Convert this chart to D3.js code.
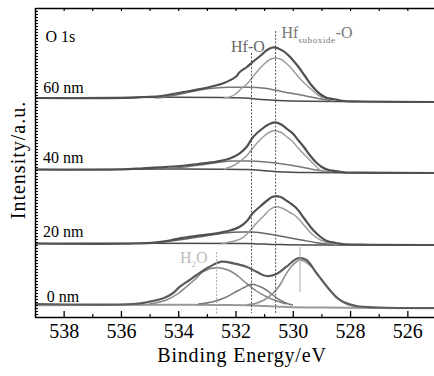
<!DOCTYPE html>
<html>
<head>
<meta charset="utf-8">
<script src="https://cdn.jsdelivr.net/npm/d3@7"></script>
<style>
  body { margin: 0; background: #fff; }
</style>
</head>
<body>
<svg id="chart" width="434" height="376"></svg>
<script>
var serif = "'Liberation Serif', 'Times New Roman', Times, 'DejaVu Serif', serif";

// binding energy axis
var majorTicks = [538, 536, 534, 532, 530, 528, 526];
var minorTicks = [539, 537, 535, 533, 531, 529, 527, 525];

// stacked spectra: label + vertical offset (intensity units)
var panelNames = ["0 nm", "20 nm", "40 nm", "60 nm"];
var offsets = [13, 73.5, 147.5, 219];

// peak positions (eV)
var posH2O = 532.66, posHfO = 531.44, posSub = 530.6, posLow = 529.75;

// ---- 60 nm ----
var env60 = [[539,0],[536,0],[535.23,1],[534.6,2],[534.19,4],[533.6,7],[532.9,11],[532.4,15],[532.0,21],[531.85,26],
  [531.6,31],[531.4,36],[531.1,43],[530.9,48],[530.7,50.5],[530.5,49.5],[530.2,44],[530.0,38],[529.8,31],[529.6,23],
  [529.41,15],[529.2,8],[529.0,3],[528.8,0],[528.6,-1],[528.2,-3],[527.6,-3.5],[525,-4]];
var sub60 = [[532.4,0],[532.2,1],[532.0,4],[531.85,8],[531.6,14],[531.4,21],[531.2,28],[531.0,34],[530.8,38.5],[530.63,40],
  [530.4,38.5],[530.2,34],[530.0,28],[529.8,21],[529.6,15],[529.41,10],[529.2,5],[529.06,2],[528.9,0],[528.6,-1.5]];
var hfo60 = [[534.8,0],[534.4,1.3],[533.9,4],[533.24,8],[532.7,10],[532.2,10.7],[531.6,10.7],[531.26,10.5],[530.9,9.5],
  [530.35,6.3],[529.8,3.5],[529.41,1.3],[529.0,-1],[528.6,-3]];
var bg60 = [[539,0],[531.7,0],[531.1,-1.5],[530.5,-2.5],[529.5,-3.2],[525,-4]];

// ---- 40 nm ----
var env40 = [[539,0],[536,0],[535.23,1.2],[534.6,2.2],[533.94,3.5],[533.3,5.5],[532.66,7.8],[532.2,11],[531.85,16.2],
  [531.6,23],[531.4,32],[531.1,40],[530.85,45],[530.63,47.2],[530.4,45],[530.2,40.5],[530.0,36],[529.8,29],[529.6,22],
  [529.41,14.5],[529.2,7.5],[529.0,2.8],[528.8,0],[528.61,-1.2],[528.2,-2.8],[527.6,-3.2],[525,-3.5]];
var sub40 = [[532.4,0],[532.31,1.2],[532.1,3.5],[531.85,7.8],[531.6,14],[531.4,21.2],[531.2,28],[531.0,33.5],[530.8,37.5],
  [530.63,38.8],[530.4,37],[530.2,32.5],[530.0,27.8],[529.8,21],[529.6,15],[529.41,9.5],[529.2,3.5],[529.06,-0.5],[528.8,-2]];
var hfo40 = [[534.8,0],[534.19,1.2],[533.7,2.8],[533.24,4.5],[532.7,6.8],[532.2,8.5],[531.6,8.4],[531.05,7.8],[530.6,6.5],
  [530.11,4.5],[529.6,1.8],[529.17,-0.5],[528.6,-2.5]];
var bg40 = [[539,0],[531.6,0],[531.0,-1.2],[530.5,-2.2],[529.5,-3],[525,-3.5]];

// ---- 20 nm ----
var env20 = [[539,0],[535.5,0],[534.76,1.2],[534.3,3],[533.94,5.2],[533.3,7.8],[532.66,10.2],[532.2,13],[531.85,16.8],
  [531.6,22.5],[531.4,30.2],[531.1,38],[530.85,44],[530.7,46.8],[530.45,46.8],[530.2,42.5],[529.87,35.2],[529.6,25],
  [529.29,13.5],[529.05,7],[528.83,2.8],[528.5,0.5],[528.26,-0.5],[527.6,-1.2],[525,-1.5]];
var sub20 = [[532.5,0],[532.31,0.8],[532.0,2.8],[531.73,6.2],[531.5,12.5],[531.27,20.2],[531.0,28],[530.8,34],
  [530.57,36.8],[530.3,34.5],[530.1,31],[529.87,26.8],[529.6,18],[529.29,8.5],[529.0,3],[528.71,0.2],[528.4,-1]];
var hfo20 = [[535.0,0],[534.64,1.2],[534.0,3.5],[533.24,6.8],[532.6,9.5],[532.09,11.2],[531.6,11.4],[531.27,11.2],
  [530.8,9.2],[530.22,6.2],[529.7,3.5],[529.17,0.8],[528.7,-0.8],[528.2,-1.5]];
var bg20 = [[539,0],[531.6,0],[531.0,-0.6],[530.4,-1.1],[529.5,-1.4],[525,-1.5]];

// ---- 0 nm ----
var env0 = [[539,0],[535.6,0],[535.0,2.3],[534.52,5.7],[534.2,10.5],[533.94,17.3],[533.6,24],[533.36,29],[532.9,37.3],
  [532.49,42.3],[532.08,40.7],[531.62,37.3],[531.27,32.3],[530.92,28],[530.57,30],[530.22,37.3],[529.82,45.7],
  [529.52,44],[529.17,30.7],[528.71,14],[528.45,6],[528.25,2.3],[527.78,-2],[527.0,-3.5],[525,-4]];
var h2o0 = [[535.0,0],[534.41,4],[534.0,10.5],[533.71,17.3],[533.4,25],[533.13,32.3],[532.66,36.3],[532.2,33.3],
  [531.9,27.5],[531.62,20.7],[531.27,13],[530.92,7.3],[530.5,2.5],[530.22,0]];
var hfo0 = [[533.3,0],[532.78,2.3],[532.4,6],[532.08,10.7],[531.7,16.5],[531.44,19.7],[531.15,17.5],[530.92,14],
  [530.7,9],[530.45,4],[530.2,0.5],[530.0,-1]];
var low0 = [[531.6,-0.5],[531.38,0],[531.0,4],[530.69,10.7],[530.45,19],[530.22,30.7],[530.0,39],[529.76,44],
  [529.52,41.5],[529.29,35.7],[529.0,25],[528.71,14],[528.4,5.5],[528.13,0],[527.8,-2.5]];
var bg0 = [[539,-1.2],[531.6,-1.2],[531.0,-2],[530.2,-3],[529.0,-3.6],[525,-4.3]];

var spectra = [
  { off: offsets[0], curves: [
      { d: bg0, c: "#999", w: 2 },
      { d: h2o0, c: "#858585", w: 1.5 },
      { d: hfo0, c: "#777", w: 1.5 },
      { d: low0, c: "#8a8a8a", w: 1.5 },
      { d: env0, c: "#5c5c5c", w: 2.2 } ] },
  { off: offsets[1], curves: [
      { d: bg20, c: "#4a4a4a", w: 1.5 },
      { d: hfo20, c: "#666", w: 1.5 },
      { d: sub20, c: "#9c9c9c", w: 1.5 },
      { d: env20, c: "#505050", w: 2.2 } ] },
  { off: offsets[2], curves: [
      { d: bg40, c: "#4a4a4a", w: 1.5 },
      { d: hfo40, c: "#777", w: 1.5 },
      { d: sub40, c: "#9c9c9c", w: 1.5 },
      { d: env40, c: "#505050", w: 2.2 } ] },
  { off: offsets[3], curves: [
      { d: bg60, c: "#4a4a4a", w: 1.5 },
      { d: hfo60, c: "#777", w: 1.5 },
      { d: sub60, c: "#9c9c9c", w: 1.5 },
      { d: env60, c: "#505050", w: 2.2 } ] }
];

var svg = d3.select("#chart");
var mLeft = 35, mTop = 8, mBottom = 317;

var x = d3.scaleLinear().domain([539, 525]).range([mLeft, 436]);
var y = d3.scaleLinear().domain([0, 309]).range([mBottom, mTop]);

svg.append("clipPath").attr("id", "clip")
  .append("rect").attr("x", mLeft).attr("y", mTop).attr("width", 434 - mLeft).attr("height", mBottom - mTop);

var line = d3.line()
  .x(d => x(d[0]))
  .y(d => y(d[1]))
  .curve(d3.curveCatmullRom.alpha(0.5));

var plot = svg.append("g").attr("clip-path", "url(#clip)");

spectra.forEach(s => {
  s.curves.forEach(c => {
    plot.append("path")
      .attr("d", line(c.d.map(p => [p[0], p[1] + s.off])))
      .attr("fill", "none")
      .attr("stroke", c.c)
      .attr("stroke-width", c.w)
      .attr("stroke-linejoin", "round");
  });
});

// reference lines
var refLines = [
  { e: posHfO, y1: 53, y2: 313, c: "#555", dash: "2,1.5" },
  { e: posSub, y1: 31, y2: 313, c: "#555", dash: "2,1.5" },
  { e: posH2O, y1: 252, y2: 315, c: "#aaa", dash: "2,1.5" },
  { e: posLow, y1: 247, y2: 292, c: "#aaa", dash: null }
];
refLines.forEach(r => {
  svg.append("line")
    .attr("x1", x(r.e)).attr("x2", x(r.e))
    .attr("y1", r.y1).attr("y2", r.y2)
    .attr("stroke", r.c).attr("stroke-width", 1)
    .attr("stroke-dasharray", r.dash);
});

// axes
var xAxis = d3.axisBottom(x).tickValues(majorTicks).tickSizeInner(-6).tickSizeOuter(0).tickPadding(6.5)
  .tickFormat(d3.format("d"));
var gx = svg.append("g").attr("transform", `translate(0,${mBottom})`).call(xAxis);
gx.attr("font-family", serif);
gx.selectAll("text").style("font-family", serif).style("font-size", "20px").attr("fill", "#000");
gx.select(".domain").attr("stroke", "#000").attr("stroke-width", 1.5);
gx.selectAll(".tick line").attr("stroke", "#000").attr("stroke-width", 1.3);

var xMinor = d3.axisBottom(x).tickValues(minorTicks).tickSizeInner(-3).tickSizeOuter(0).tickFormat("");
var gxm = svg.append("g").attr("transform", `translate(0,${mBottom})`).call(xMinor);
gxm.select(".domain").remove();
gxm.selectAll(".tick line").attr("stroke", "#000").attr("stroke-width", 1.2);

var xTop = d3.axisTop(x).tickValues(majorTicks.concat(minorTicks)).tickSizeInner(-3).tickSizeOuter(0).tickFormat("");
var gt = svg.append("g").attr("transform", `translate(0,${mTop})`).call(xTop);
gt.select(".domain").attr("stroke", "#000").attr("stroke-width", 1.5);
gt.selectAll(".tick line").attr("stroke", "#000").attr("stroke-width", 1.2);

var yAxis = d3.axisLeft(y).tickValues(d3.range(0, 310, 3)).tickSizeInner(-3).tickSizeOuter(0).tickFormat("");
var gy = svg.append("g").attr("transform", `translate(${mLeft},0)`).call(yAxis);
gy.select(".domain").attr("stroke", "#000").attr("stroke-width", 1.5);
gy.selectAll(".tick line").attr("stroke", "#000").attr("stroke-width", 1);

// axis titles
svg.append("text")
  .attr("x", 242).attr("y", 362)
  .attr("text-anchor", "middle")
  .style("font-family", serif)
  .style("font-size", "20px").style("letter-spacing", "0.8px")
  .attr("fill", "#000")
  .text("Binding Energy/eV");

svg.append("text")
  .attr("transform", "translate(25,160) rotate(-90)")
  .attr("text-anchor", "middle")
  .style("font-family", serif)
  .style("font-size", "20px").style("letter-spacing", "1px")
  .attr("fill", "#000")
  .text("Intensity/a.u.");

// annotations
var panelLabelY = [301.7, 237.3, 163.3, 93.3];
var panelLabelX = [46.7, 43, 43, 43.3];
panelNames.forEach((n, i) => {
  svg.append("text")
    .attr("x", panelLabelX[i]).attr("y", panelLabelY[i])
    .style("font-family", serif)
    .style("font-size", "16px").attr("fill", "#000")
    .text(n);
});

svg.append("text").attr("x", 45.5).attr("y", 41.7)
  .style("font-family", serif)
  .style("font-size", "16px").attr("fill", "#000").text("O 1s");

svg.append("text").attr("x", 231).attr("y", 51.7)
  .style("font-family", serif)
  .style("font-size", "16px").attr("fill", "#666").text("Hf-O");

var tSub = svg.append("text").attr("x", 281.5).attr("y", 38.3)
  .style("font-family", serif)
  .style("font-size", "16px").attr("fill", "#777");
tSub.append("tspan").text("Hf");
tSub.append("tspan").attr("dy", 5).style("font-size", "9px").style("letter-spacing", "0.6px").text("suboxide");
tSub.append("tspan").attr("dy", -5).text("-O");

var tH = svg.append("text").attr("x", 180).attr("y", 263)
  .style("font-family", serif)
  .style("font-size", "16px").attr("fill", "#bbb");
tH.append("tspan").text("H");
tH.append("tspan").attr("dy", 4).style("font-size", "9px").text("2");
tH.append("tspan").attr("dy", -4).text("O");
</script>
</body>
</html>
